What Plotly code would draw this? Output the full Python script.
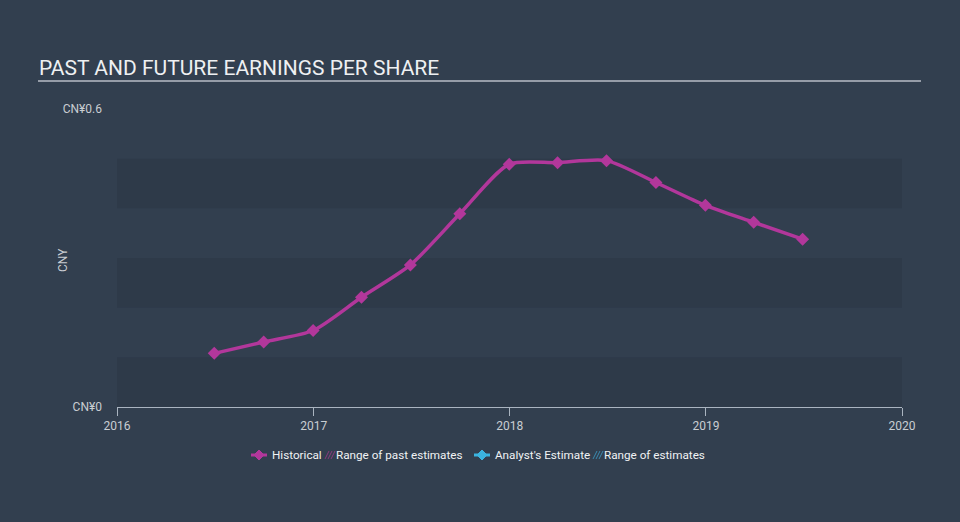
import plotly.graph_objects as go

# ---- data ----
dates = ["2016-06-30", "2016-09-30", "2016-12-31", "2017-03-31", "2017-06-30",
         "2017-09-30", "2017-12-31", "2018-03-31", "2018-06-30", "2018-09-30",
         "2018-12-31", "2019-03-31", "2019-06-30"]
eps = [0.108, 0.131, 0.154, 0.221, 0.286, 0.389, 0.489, 0.492, 0.496, 0.452,
       0.406, 0.372, 0.338]
x_ticks = ["2016-01-01", "2017-01-01", "2018-01-01", "2019-01-01", "2020-01-01"]
x_tick_labels = ["2016", "2017", "2018", "2019", "2020"]
y_ticks = [0, 0.6]
y_tick_labels = ["CN¥0", "CN¥0.6"]
legend_items = ["Historical", "Range of past estimates", "Analyst's Estimate", "Range of estimates"]

# ---- style ----
W, H = 960, 522
L, R, T, B = 117, 58, 109, 115
BG = "#323f4f"
BAND = "rgba(30,40,54,0.22)"
HIST = "#b2379b"
EST = "#3bb4e0"
FONT = "Roboto"
TXT = "#c9cdd2"

def px_x(px):
    return (px - L) / (W - L - R)

def px_y(py):
    return (H - B - py) / (H - T - B)

fig = go.Figure()
fig.add_trace(go.Scatter(
    x=dates, y=eps, mode="lines+markers",
    line=dict(color=HIST, width=3.5, shape="spline", smoothing=0.7),
    marker=dict(symbol="diamond", size=10, color=HIST),
    showlegend=False, hoverinfo="x+y"))

shapes = []
# horizontal bands
for lo, hi in [(0, 0.1), (0.2, 0.3), (0.4, 0.5)]:
    shapes.append(dict(type="rect", xref="paper", yref="y", x0=0, x1=1, y0=lo, y1=hi,
                       fillcolor=BAND, line=dict(width=0), layer="below"))
# title underline
shapes.append(dict(type="line", xref="paper", yref="paper",
                   x0=px_x(38), x1=px_x(921), y0=px_y(81), y1=px_y(81),
                   line=dict(color="#b8bec6", width=1.5)))

annotations = [
    dict(text="PAST AND FUTURE EARNINGS PER SHARE", xref="paper", yref="paper",
         x=px_x(37), y=px_y(68), xanchor="left", yanchor="middle", showarrow=False,
         font=dict(family=FONT, size=21, color="#eef0f2")),
    dict(text="CNY", xref="paper", yref="paper", x=px_x(63), y=px_y(260),
         xanchor="center", yanchor="middle", showarrow=False, textangle=-90,
         font=dict(family=FONT, size=12, color=TXT)),
]

# ---- custom legend ----
ly = 455
def diamond_marker(cx, color):
    shapes.append(dict(type="line", xref="paper", yref="paper",
                       x0=px_x(cx - 8), x1=px_x(cx + 8), y0=px_y(ly), y1=px_y(ly),
                       line=dict(color=color, width=3)))
    d = 5
    path = "M {} {} L {} {} L {} {} L {} {} Z".format(
        px_x(cx - d), px_y(ly), px_x(cx), px_y(ly - d), px_x(cx + d), px_y(ly), px_x(cx), px_y(ly + d))
    shapes.append(dict(type="path", xref="paper", yref="paper", path=path,
                       fillcolor=color, line=dict(color=color, width=1)))

def hatch(x0, color):
    for k in range(3):
        xs = x0 + k * 3
        shapes.append(dict(type="line", xref="paper", yref="paper",
                           x0=px_x(xs), x1=px_x(xs + 4), y0=px_y(ly + 4), y1=px_y(ly - 4),
                           line=dict(color=color, width=1)))

def legend_text(x, text):
    annotations.append(dict(text=text, xref="paper", yref="paper", x=px_x(x), y=px_y(ly),
                            xanchor="left", yanchor="middle", showarrow=False,
                            font=dict(family=FONT, size=11.7, color="#f0f2f4")))

diamond_marker(259, HIST)
legend_text(270, legend_items[0])
hatch(325, "#8a3a7e")
legend_text(334, legend_items[1])
diamond_marker(482, EST)
legend_text(493, legend_items[2])
hatch(593, "#3a8ab0")
legend_text(602, legend_items[3])

fig.update_layout(
    width=W, height=H,
    margin=dict(l=L, r=R, t=T, b=B, pad=0),
    paper_bgcolor=BG, plot_bgcolor="rgba(0,0,0,0)",
    font=dict(family=FONT, size=12, color=TXT),
    showlegend=False,
    shapes=shapes, annotations=annotations,
    xaxis=dict(type="date", range=["2016-01-01", "2020-01-01"], tickvals=x_ticks,
               ticktext=x_tick_labels, showgrid=False, zeroline=False,
               showline=True, linecolor="#aab4c0", linewidth=1,
               ticks="outside", ticklen=8, tickcolor="#aab4c0",
               tickfont=dict(family=FONT, size=12, color=TXT)),
    yaxis=dict(range=[0, 0.6], tickvals=y_ticks, ticktext=y_tick_labels,
               showgrid=False, zeroline=False, showline=False, ticks="",
               ticklabelstandoff=14,
               tickfont=dict(family=FONT, size=12, color=TXT)),
)

fig.write_html("out.html")
